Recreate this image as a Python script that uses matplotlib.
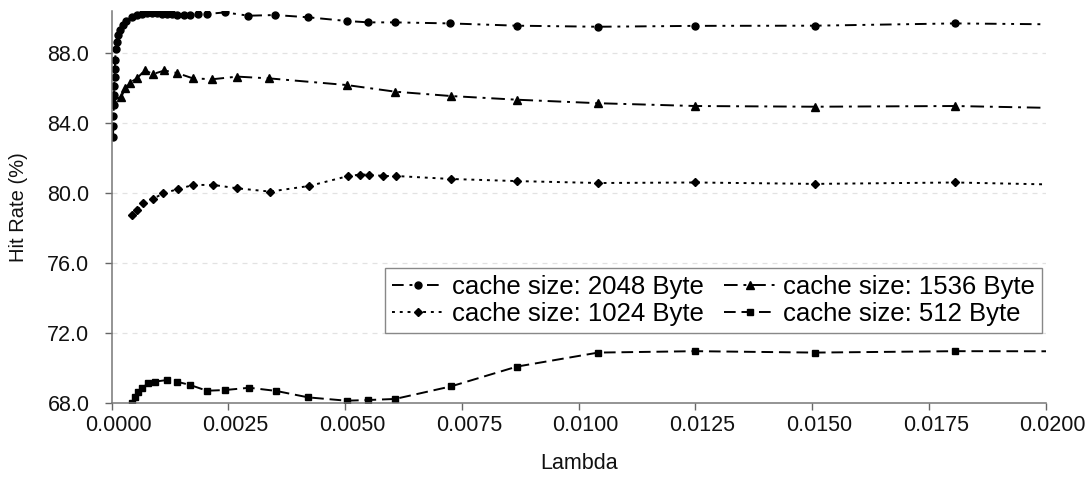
import matplotlib
matplotlib.use("Agg")
import matplotlib.pyplot as plt
from matplotlib.ticker import FormatStrFormatter
from matplotlib.transforms import ScaledTranslation

plt.rcParams['font.family'] = ['Liberation Sans', 'DejaVu Sans']

# hit rate vs. lambda for four cache sizes
lam_2048 = [0.000030, 0.000035, 0.000040, 0.000045, 0.000050, 0.000056, 0.000062,
            0.000068, 0.000075, 0.000088, 0.00011, 0.00014, 0.00018, 0.00024,
            0.00031, 0.00043, 0.00054, 0.00065, 0.00075, 0.00086, 0.00097,
            0.00107, 0.00118, 0.00129, 0.00139, 0.00154, 0.00168, 0.00186,
            0.00204, 0.00243, 0.00293, 0.00350, 0.00421, 0.00503, 0.00550,
            0.00607, 0.00725, 0.00868, 0.01042, 0.01250, 0.01506, 0.01806, 0.02167]
hit_2048 = [83.2, 83.8, 84.4, 85.0, 85.6, 86.1, 86.6,
            87.1, 87.6, 88.2, 88.65, 89.0, 89.3, 89.6,
            89.85, 90.04, 90.17, 90.25, 90.27, 90.27, 90.27,
            90.23, 90.23, 90.2, 90.17, 90.17, 90.17, 90.2,
            90.23, 90.32, 90.13, 90.17, 90.04, 89.83, 89.75,
            89.75, 89.69, 89.56, 89.5, 89.55, 89.56, 89.69, 89.6]

lam_1536 = [0.00004, 0.00021, 0.00029, 0.00039, 0.00054, 0.00071, 0.00089,
            0.00113, 0.00141, 0.00174, 0.00216, 0.00269, 0.00337, 0.00503,
            0.00607, 0.00727, 0.00868, 0.01042, 0.01250, 0.01506, 0.01806, 0.02167]
hit_1536 = [85.3, 85.5, 86.0, 86.3, 86.55, 87.0, 86.8,
            87.0, 86.85, 86.55, 86.5, 86.65, 86.55, 86.17,
            85.79, 85.54, 85.33, 85.13, 84.97, 84.93, 84.97, 84.78]

lam_1024 = [0.00044, 0.00054, 0.00068, 0.00088, 0.00111, 0.00143, 0.00175,
            0.00218, 0.00268, 0.00339, 0.00423, 0.00507, 0.00532, 0.00552,
            0.00582, 0.00609, 0.00727, 0.00868, 0.01042, 0.01250, 0.01506,
            0.01806, 0.02167]
hit_1024 = [78.74, 79.0, 79.4, 79.66, 79.98, 80.23, 80.46,
            80.46, 80.27, 80.08, 80.4, 80.97, 81.05, 81.05,
            80.97, 80.97, 80.8, 80.68, 80.57, 80.6, 80.52,
            80.6, 80.4]

lam_512 = [0.00043, 0.00050, 0.00057, 0.00066, 0.00078, 0.00093, 0.00118,
           0.00139, 0.00168, 0.00204, 0.00243, 0.00295, 0.00352, 0.00421,
           0.00503, 0.00550, 0.00607, 0.00727, 0.00868, 0.01042, 0.01250,
           0.01506, 0.01806, 0.02167]
hit_512 = [68.02, 68.36, 68.65, 68.87, 69.12, 69.22, 69.31,
           69.22, 69.03, 68.70, 68.74, 68.87, 68.69, 68.32,
           68.13, 68.17, 68.23, 68.95, 70.08, 70.88, 70.96,
           70.88, 70.96, 70.95]

x_ticks = [0.0, 0.0025, 0.005, 0.0075, 0.01, 0.0125, 0.015, 0.0175, 0.02]
y_ticks = [68.0, 72.0, 76.0, 80.0, 84.0, 88.0]

fig = plt.figure(figsize=(10.9, 4.93), dpi=100)
ax = fig.add_axes([0.1024, 0.1826, 0.8569, 0.7951])

fs = 15.5
lw = 1.4
ms = 5

ax.plot(lam_2048, hit_2048, color='black', lw=lw, marker='o', ms=ms,
        dashes=(6, 3, 1.5, 3, 1.5, 3), label='cache size: 2048 Byte')
ax.plot(lam_1024, hit_1024, color='black', lw=lw, marker='D', ms=ms - 0.5,
        dashes=(1.5, 2.5), label='cache size: 1024 Byte')
ax.plot(lam_1536, hit_1536, color='black', lw=lw, marker='^', ms=ms + 0.5,
        dashes=(7, 3, 1.5, 3), label='cache size: 1536 Byte')
ax.plot(lam_512, hit_512, color='black', lw=lw, marker='s', ms=ms - 0.5,
        dashes=(6, 3), label='cache size: 512 Byte')

# faint horizontal gridlines
for yv in y_ticks[1:]:
    ax.axhline(yv, color='#e2e2e2', lw=0.9, dashes=(4, 4), zorder=0)

ax.set_xlim(0, 0.02)
ax.set_ylim(68, 90.4)
ax.set_xticks(x_ticks)
ax.set_yticks(y_ticks)
ax.xaxis.set_major_formatter(FormatStrFormatter('%.4f'))
ax.yaxis.set_major_formatter(FormatStrFormatter('%.1f'))
ax.tick_params(direction='out', length=5, width=1, color='#666666',
               labelsize=fs, labelcolor='#111111')
ax.tick_params(axis='x', pad=4)
ax.tick_params(axis='y', pad=11)

# x tick labels sit a little right of their ticks
shift = ScaledTranslation(7 / 100, 0, fig.dpi_scale_trans)
for lab in ax.get_xticklabels():
    lab.set_transform(lab.get_transform() + shift)

for side in ['top', 'right']:
    ax.spines[side].set_visible(False)
for side in ['left', 'bottom']:
    ax.spines[side].set_color('#777777')
    ax.spines[side].set_linewidth(1.1)

ax.set_xlabel('Lambda', fontsize=fs, color='#111111', labelpad=12)
ax.set_ylabel('Hit Rate (%)', fontsize=14.5, color='#111111', labelpad=14)

leg = ax.legend(ncol=2, loc='upper left', bbox_to_anchor=(0.293, 0.345),
                borderaxespad=0, fontsize=18.5, frameon=True, fancybox=False,
                framealpha=1, edgecolor='#888888', handlelength=2.0,
                handletextpad=0.3, columnspacing=0.8, labelspacing=0.1,
                borderpad=0.28)
leg.get_frame().set_linewidth(1.0)

fig.savefig('out.png', dpi=100)
